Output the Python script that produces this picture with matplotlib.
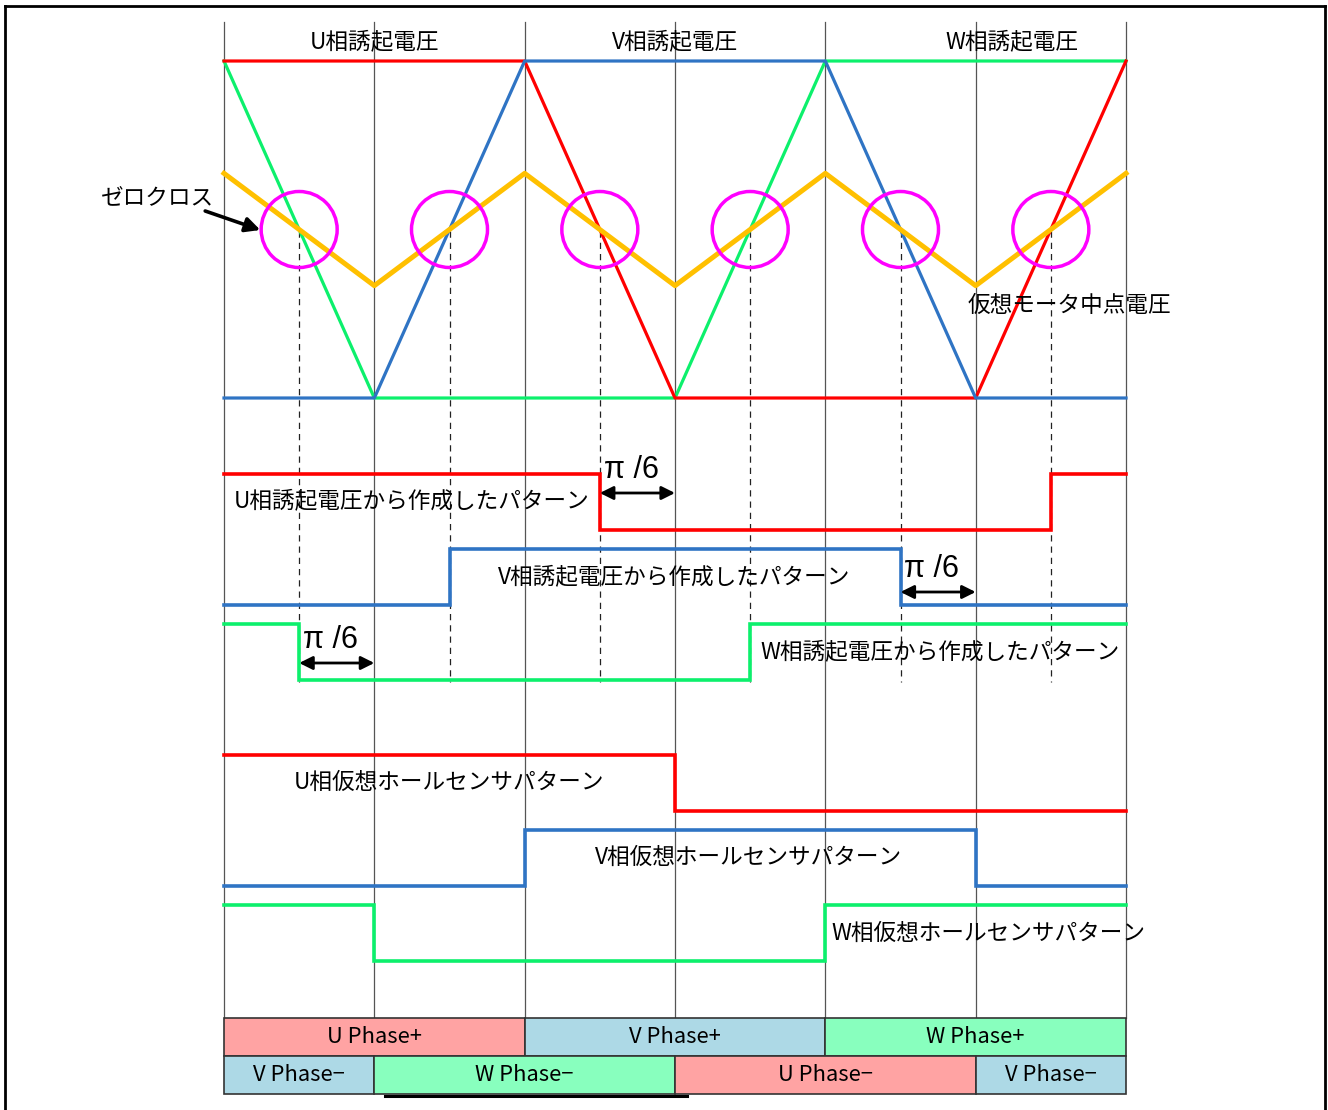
import matplotlib.pyplot as plt
from matplotlib.patches import Ellipse, Rectangle
from matplotlib.lines import Line2D

plt.rcParams['font.family'] = ['Noto Sans CJK JP', 'DejaVu Sans']

# electrical angle (deg) of each 60 deg segment boundary
angles = [0, 60, 120, 180, 240, 300, 360]

# induced voltages (1 = high, 0 = low)
u_emf = [1, 1, 1, 0, 0, 0, 1]
v_emf = [0, 0, 1, 1, 1, 0, 0]
w_emf = [1, 0, 0, 0, 1, 1, 1]
neutral = [2/3, 1/3, 2/3, 1/3, 2/3, 1/3, 2/3]

# zero-cross angles
zero_cross = [30, 90, 150, 210, 270, 330]

# patterns made from induced voltage (edges, levels)
u_cmp_edges, u_cmp = [0, 150, 330, 360], [1, 0, 1]
v_cmp_edges, v_cmp = [0, 90, 270, 360], [0, 1, 0]
w_cmp_edges, w_cmp = [0, 30, 210, 360], [1, 0, 1]

# virtual hall sensor patterns
u_hall_edges, u_hall = [0, 180, 360], [1, 0]
v_hall_edges, v_hall = [0, 120, 300, 360], [0, 1, 0]
w_hall_edges, w_hall = [0, 60, 240, 360], [1, 0, 1]

# energised phases
plus_edges = [0, 120, 240, 360]
plus_labels = ["U Phase+", "V Phase+", "W Phase+"]
minus_edges = [0, 60, 180, 300, 360]
minus_labels = ["V Phase\u2212", "W Phase\u2212", "U Phase\u2212", "V Phase\u2212"]

RED, BLUE, GREEN = '#FF0000', '#2F74C4', '#0CF06C'
ORANGE, MAGENTA = '#FFC000', '#FF00FF'
cell_col = {'U': '#FFA3A3', 'V': '#ADD9E6', 'W': '#88FFBE'}
FS = 16.3

W, H = 1328, 1110
px = 360 / 902  # degrees per pixel
fig = plt.figure(figsize=(W / 100, H / 100), dpi=100)
ax = fig.add_axes([0, 0, 1, 1])
ax.set_xlim(-224 * px, (W - 224) * px)
ax.set_ylim(H, 0)
ax.axis('off')

# section layout (y in pixel rows)
emf_hi, emf_lo = 61, 398
def emf_y(v):
    return [emf_lo - (emf_lo - emf_hi) * a for a in v]

def step(edges, levels, hi, lo, color):
    ys = [lo - (lo - hi) * l for l in levels]
    ax.step(edges, ys + [ys[-1]], where='post', color=color, lw=2.6,
            solid_joinstyle='miter', zorder=3)

# vertical guides
for a in angles:
    ax.plot([a, a], [22, 1018], color='#555555', lw=0.9, zorder=1)
for z in zero_cross:
    ax.plot([z, z], [231, 682], color='#222222', lw=0.9, ls=(0, (5, 4)), zorder=1)

# induced voltages
ax.plot(angles, emf_y(u_emf), color=RED, lw=2.3, zorder=3)
ax.plot(angles, emf_y(v_emf), color=BLUE, lw=2.3, zorder=3)
ax.plot(angles, emf_y(w_emf), color=GREEN, lw=2.3, zorder=2)
ax.plot(angles, emf_y(neutral), color=ORANGE, lw=3.6, zorder=4)
zc_y = emf_y([0.5])[0]
for z in zero_cross:
    ax.add_patch(Ellipse((z, zc_y), 2 * 38 * px, 76, fill=False,
                         ec=MAGENTA, lw=2.5, zorder=5))

ax.text(60, 42, "U相誘起電圧", ha='center', va='center', fontsize=FS)
ax.text(180, 42, "V相誘起電圧", ha='center', va='center', fontsize=FS)
ax.text(314.5, 42, "W相誘起電圧", ha='center', va='center', fontsize=FS)
ax.text(-26.7, 198, "ゼロクロス", ha='center', va='center', fontsize=FS)
ax.annotate("", xy=(14.5, 230), xytext=(-7.5, 211),
            arrowprops=dict(arrowstyle='-|>', color='black', lw=2.6,
                            mutation_scale=22, shrinkA=0, shrinkB=0))
ax.text(337.3, 305, "仮想モータ中点電圧", ha='center', va='center', fontsize=FS)

# patterns from induced voltage
step(u_cmp_edges, u_cmp, 474, 530, RED)
step(v_cmp_edges, v_cmp, 549, 605, BLUE)
step(w_cmp_edges, w_cmp, 624, 680, GREEN)
ax.text(4, 501, "U相誘起電圧から作成したパターン", ha='left', va='center', fontsize=FS)
ax.text(109.4, 577, "V相誘起電圧から作成したパターン", ha='left', va='center', fontsize=FS)
ax.text(213.9, 652, "W相誘起電圧から作成したパターン", ha='left', va='center', fontsize=FS)

for z, ty, ay in [(150, 470, 493), (270, 569, 592), (30, 640, 663)]:
    ax.text(z + 1.5, ty, "\u03c0 /6", ha='left', va='center', fontsize=22,
            family=['Liberation Sans', 'DejaVu Sans'])
    ax.annotate("", xy=(z + 30, ay), xytext=(z, ay),
                arrowprops=dict(arrowstyle='<|-|>', color='black', lw=2.0,
                                mutation_scale=20, shrinkA=0, shrinkB=0))

# virtual hall sensor patterns
step(u_hall_edges, u_hall, 755, 811, RED)
step(v_hall_edges, v_hall, 830, 886, BLUE)
step(w_hall_edges, w_hall, 905, 961, GREEN)
ax.text(27.9, 782, "U相仮想ホールセンサパターン", ha='left', va='center', fontsize=FS)
ax.text(148, 857, "V相仮想ホールセンサパターン", ha='left', va='center', fontsize=FS)
ax.text(242.3, 933, "W相仮想ホールセンサパターン", ha='left', va='center', fontsize=FS)

# phase table
for edges, labels, y0 in [(plus_edges, plus_labels, 1018), (minus_edges, minus_labels, 1056)]:
    for a0, a1, lab in zip(edges[:-1], edges[1:], labels):
        ax.add_patch(Rectangle((a0, y0), a1 - a0, 38, fc=cell_col[lab[0]],
                               ec='#333333', lw=1.2, zorder=2))
        ax.text((a0 + a1) / 2, y0 + 19, lab, ha='center', va='center', fontsize=15.8)
ax.plot([64.3, 184.8], [1096, 1096], color='black', lw=2.2)

# outer frame
for xs, ys in [([5, 5], [6, H]), ([5, 1325], [6, 6]), ([1325, 1325], [6, H])]:
    fig.add_artist(Line2D([x / W for x in xs], [1 - y / H for y in ys],
                          color='black', lw=2.0, transform=fig.transFigure))

fig.savefig("out.png", dpi=100)
